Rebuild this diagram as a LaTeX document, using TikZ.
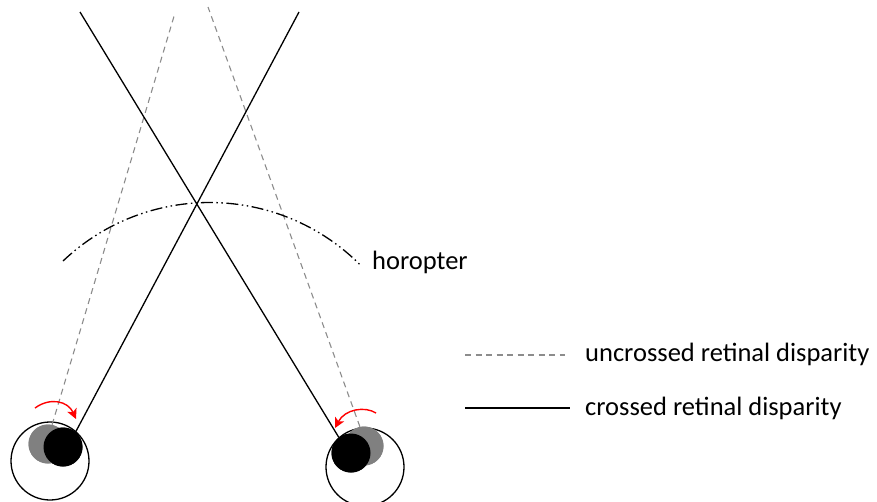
\documentclass[tikz,border=0pt]{standalone}
\usepackage{fontspec}
\setmainfont{Carlito}
\usetikzlibrary{arrows.meta}
\definecolor{pupilgray}{HTML}{808080}
\definecolor{dashgray}{HTML}{8C8C8C}
\tikzset{
  eyeball/.style={circle,draw=black,line width=1.3pt,minimum size=78pt,inner sep=0pt},
  pupil/.style={circle,fill=black,minimum size=39pt,inner sep=0pt},
  oldpupil/.style={circle,fill=pupilgray,minimum size=39pt,inner sep=0pt},
  crossed/.style={black,line width=1.3pt},
  uncrossed/.style={dashgray,line width=1.1pt,dash pattern=on 6pt off 4.5pt},
  horopterline/.style={black,line width=1.3pt,dash pattern=on 12pt off 3.5pt on 1.5pt off 3.5pt on 1.5pt off 3.5pt},
  turn/.style={red,line width=1.4pt,-{Stealth[length=10pt,width=10pt,inset=2.5pt]}},
  label/.style={font=\fontsize{26.5}{30}\selectfont,inner sep=0pt,anchor=west}
}
\begin{document}
\begin{tikzpicture}[x=1pt,y=-1pt]
\useasboundingbox (0,0) rectangle (877,501);

% eyeballs
\node[eyeball] (leye) at (50,461) {};
\node[eyeball] (reye) at (365,467) {};

% far ends of the lines of sight
\coordinate (lsolidtop) at (299,12);
\coordinate (rsolidtop) at (80,12);
\coordinate (ldashtop) at (175,13);
\coordinate (rdashtop) at (208,7);

% pupil positions (gray: before the turn, black: after)
\node[oldpupil] (lgray) at (48,444) {};
\node[oldpupil] (rgray) at (364,446) {};
\node[pupil] (lblack) at (63,447) {};
\node[pupil] (rblack) at (351,453) {};

% lines of sight
\draw[uncrossed] (lgray.78) -- (ldashtop);
\draw[uncrossed] (rgray.102) -- (rdashtop);
\draw[crossed] (lblack.50) -- (lsolidtop);
\draw[crossed] (rblack.128) -- (rsolidtop);

% pupils drawn over the line ends
\node[oldpupil] at (lgray) {};
\node[oldpupil] at (rgray) {};
\node[pupil] at (lblack) {};
\node[pupil] at (rblack) {};

% horopter arc
\coordinate (hstart) at (63,261);
\draw[horopterline] (hstart) arc[start angle=-133.5, end angle=-45, radius=213];
\node[label] (hlabel) at (372,262) {horopter};

% eye rotation arrows
\coordinate (la0) at (35,408);
\coordinate (la1) at (76,419);
\coordinate (ra0) at (376,413);
\coordinate (ra1) at (335,428);
\draw[turn] (la0) .. controls (50,397) and (68,401) .. (la1);
\draw[turn] (ra0) .. controls (365,406) and (345,409) .. (ra1);

% legend
\coordinate (k1a) at (465,355);
\coordinate (k1b) at (565,355);
\coordinate (k2a) at (465,408);
\coordinate (k2b) at (570,408);
\draw[uncrossed] (k1a) -- (k1b);
\draw[crossed] (k2a) -- (k2b);
\node[label] (l1) at (585,354) {uncrossed retinal disparity};
\node[label] (l2) at (585,408) {crossed retinal disparity};
\end{tikzpicture}
\end{document}
